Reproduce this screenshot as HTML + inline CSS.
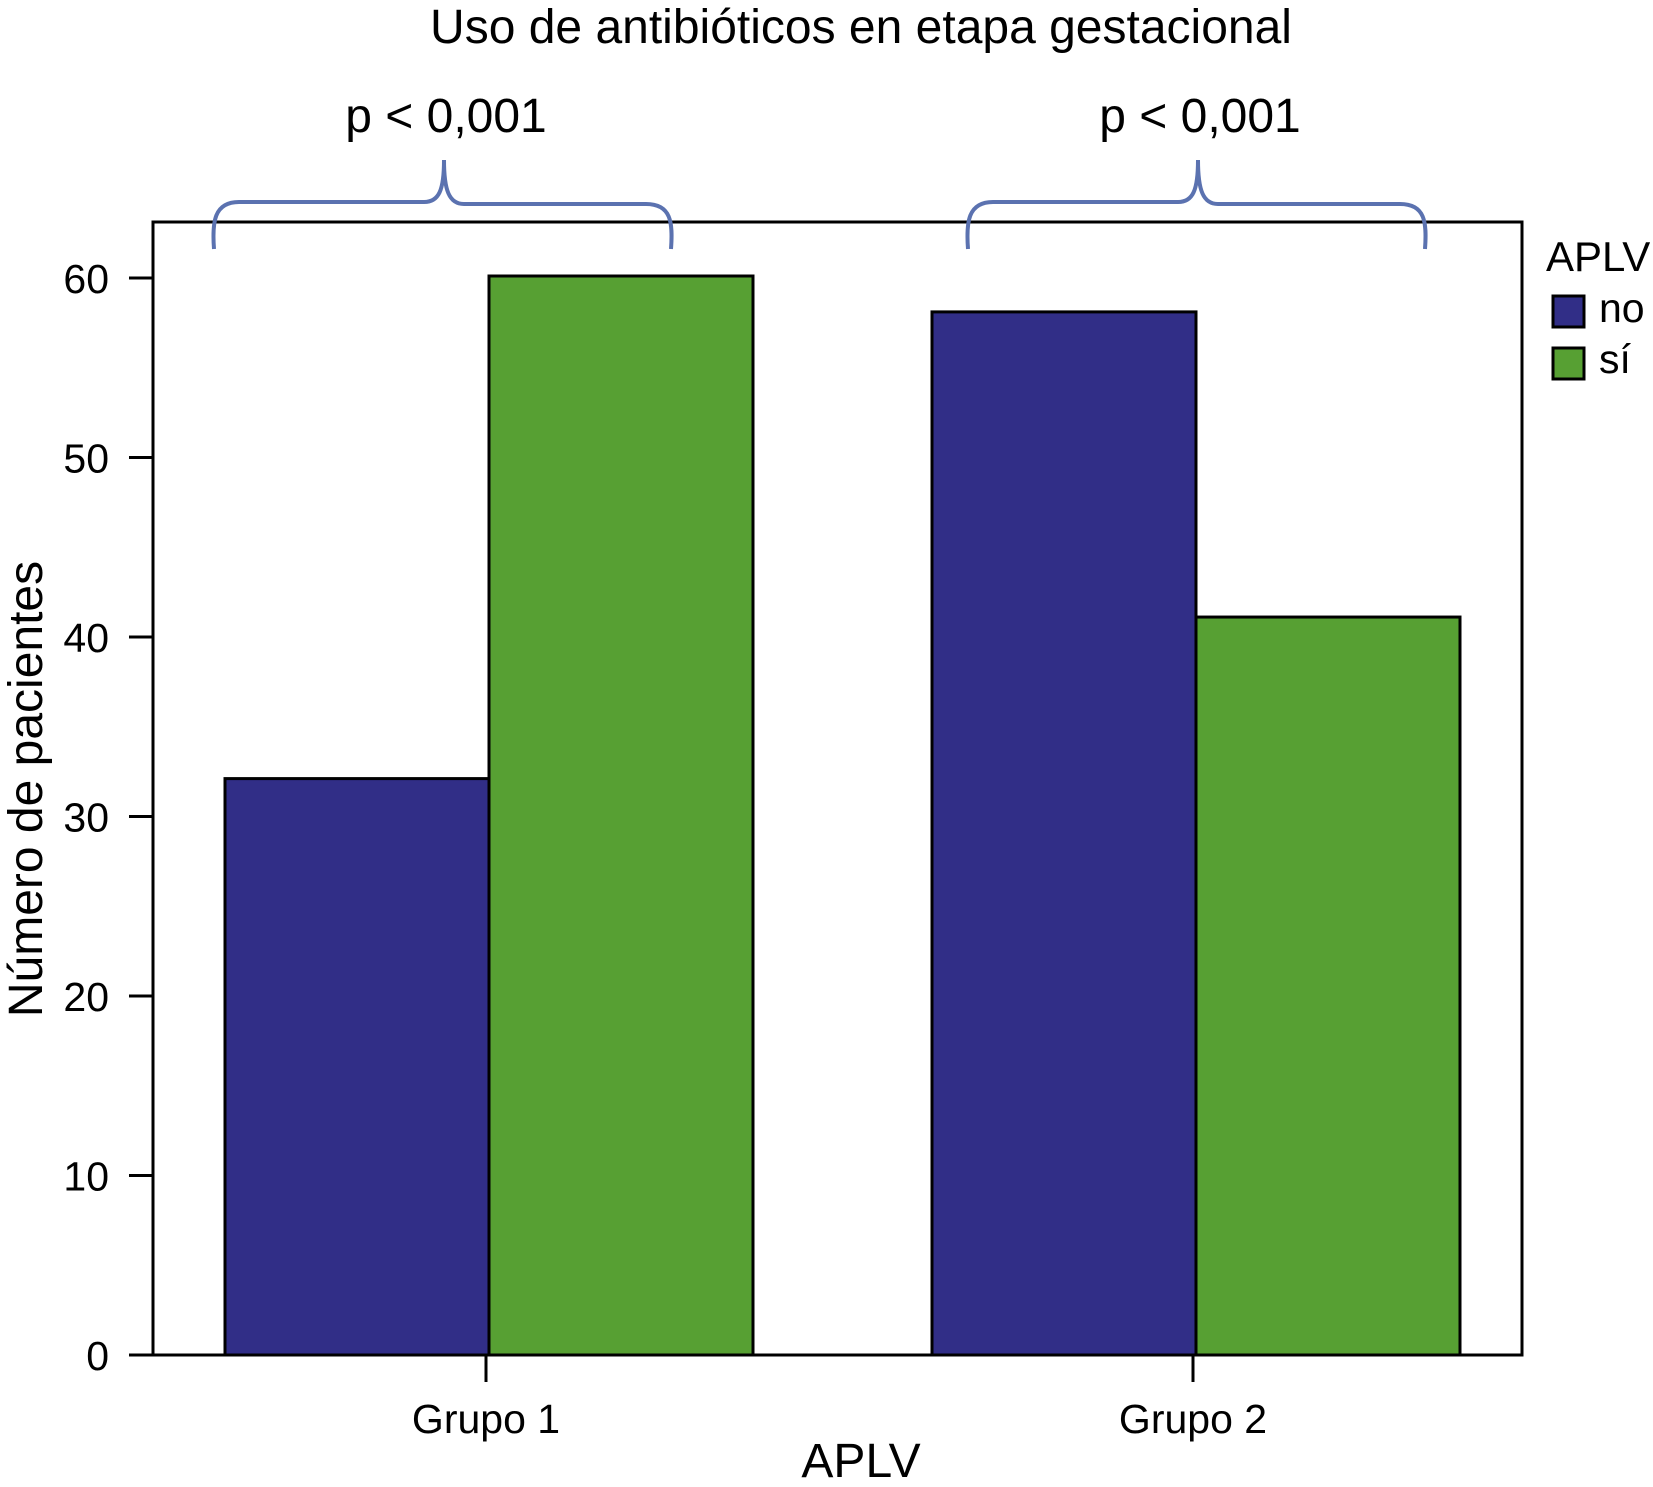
<!DOCTYPE html>
<html><head><meta charset="utf-8"><style>
html,body{margin:0;padding:0;background:#fff;}
svg{display:block;font-family:"Liberation Sans",sans-serif;}
</style></head><body>
<svg id="chart" width="1653" height="1487" viewBox="0 0 1653 1487">
<text x="861" y="43" font-size="48" text-anchor="middle">Uso de antibióticos en etapa gestacional</text>
<g id="bars"></g>
<rect x="153" y="222" width="1369" height="1133" fill="none" stroke="#000" stroke-width="3"/>
<g id="yaxis"></g>
<g id="xaxis"></g>
<text transform="translate(42,789) rotate(-90)" font-size="48" text-anchor="middle">Número de pacientes</text>
<text x="861" y="1477" font-size="48" text-anchor="middle">APLV</text>
<g id="braces"></g>
<g>
<text x="1546" y="271" font-size="42">APLV</text>
<rect x="1553" y="296" width="31" height="31" fill="#312e87" stroke="#000" stroke-width="3"/>
<text x="1599" y="322" font-size="41">no</text>
<rect x="1553" y="348" width="31" height="31" fill="#57a033" stroke="#000" stroke-width="3"/>
<text x="1599" y="373" font-size="41">sí</text>
</g>
</svg>
<script>
const categories = ["Grupo 1", "Grupo 2"];
const seriesNo = [32, 58];
const seriesSi = [60, 41];
const yTicks = [0, 10, 20, 30, 40, 50, 60];
const pLabels = ["p < 0,001", "p < 0,001"];

const NS = "http://www.w3.org/2000/svg";
const y0 = 1355, perUnit = 17.95;
const yScale = v => y0 - v * perUnit;
const centers = [489, 1196];
const xCenter = i => centers[0] + i * (centers[1] - centers[0]);
const barW = 264;
function mk(tag, attrs, parent){const e=document.createElementNS(NS,tag);for(const k in attrs)e.setAttribute(k,attrs[k]);parent.appendChild(e);return e;}

const bars = document.getElementById("bars");
categories.forEach((c,i)=>{
  const cx = xCenter(i);
  const b1 = mk("rect",{x:cx-barW,y:yScale(seriesNo[i])-2,width:barW,height:y0-yScale(seriesNo[i])+2,fill:"#312e87",stroke:"#000","stroke-width":3},bars);
  
  
  const b2 = mk("rect",{x:cx,y:yScale(seriesSi[i])-2,width:barW,height:y0-yScale(seriesSi[i])+2,fill:"#57a033",stroke:"#000","stroke-width":3},bars);
  
  
});

const ya = document.getElementById("yaxis");
yTicks.forEach(t=>{
  const y = yScale(t);
  const l = mk("line",{x1:129,x2:153,y1:y,y2:y,stroke:"#000","stroke-width":3},ya);
  
  
  const tx = mk("text",{x:109,y:y+15,"font-size":41,"text-anchor":"end"},ya);
  tx.textContent = t;
  
  
});

const xa = document.getElementById("xaxis");
categories.forEach((c,i)=>{
  const x = xCenter(i) - 3;
  const l = mk("line",{x1:x,x2:x,y1:1355,y2:1382,stroke:"#000","stroke-width":3},xa);
  
  
  const tx = mk("text",{x:x,y:1433,"font-size":41,"text-anchor":"middle"},xa);
  tx.textContent = c;
  
  
});

const br = document.getElementById("braces");
categories.forEach((c,i)=>{
  const cx = xCenter(i) - 45 + i*47;
  const L = cx - 230, R = cx + 227;
  const d = `M${L},249 C${L-2},222 ${L},202 ${L+25},202 L${cx-20},202 C${cx-5},202 ${cx},190 ${cx},160 C${cx},190 ${cx+5},204 ${cx+20},204 L${R-25},204 C${R},204 ${R+2},222 ${R},249`;
  const p = mk("path",{d:d,fill:"none",stroke:"#5b72b0","stroke-width":4},br);
  
  
  const tx = mk("text",{x:cx+2,y:132,"font-size":48,"text-anchor":"middle"},br);
  tx.textContent = pLabels[i];
  
  
});
</script>
</body></html>
